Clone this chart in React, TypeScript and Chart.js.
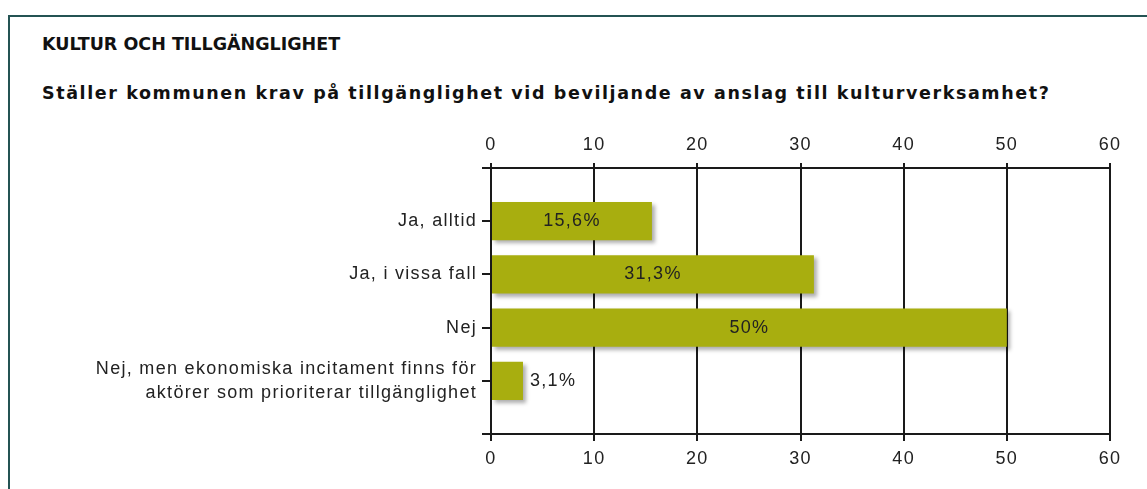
import { useEffect, useRef } from 'react';
import { Chart, registerables } from 'chart.js';

Chart.register(...registerables);

const pageTitle = 'KULTUR OCH TILLGÄNGLIGHET';
const question = 'Ställer kommunen krav på tillgänglighet vid beviljande av anslag till kulturverksamhet?';
const categories: (string | string[])[] = [
  'Ja, alltid',
  'Ja, i vissa fall',
  'Nej',
  ['Nej, men ekonomiska incitament finns för', 'aktörer som prioriterar tillgänglighet'],
];
const values = [15.6, 31.3, 50, 3.1];
const valueLabels = ['15,6%', '31,3%', '50%', '3,1%'];
const axisMin = 0;
const axisMax = 60;
const axisStep = 10;

const BAR_COLOR = '#a8ae0f';
const TEXT_COLOR = '#222222';
const LINE_COLOR = '#1a1a1a';
const LABEL_FONT = '"Liberation Sans", Arial, sans-serif';

export default function App() {
  const canvasRef = useRef<HTMLCanvasElement | null>(null);

  useEffect(() => {
    const canvas = canvasRef.current;
    if (!canvas) return;

    // pad the category axis with empty slots so that ticks sit at the plot edges
    const labels = ['', ...categories, ''];
    const data = [null, ...values, null];
    const texts = ['', ...valueLabels, ''];

    const spacingPlugin = {
      id: 'spacing',
      beforeDraw(chart: any) {
        try { chart.ctx.letterSpacing = '1.3px'; } catch (e) { /* ignore */ }
      },
    };

    const shadowPlugin = {
      id: 'barShadow',
      beforeDatasetsDraw(chart: any) {
        const ctx = chart.ctx;
        ctx.save();
        ctx.shadowColor = 'rgba(0,0,0,0.32)';
        ctx.shadowOffsetX = 3;
        ctx.shadowOffsetY = 3;
        ctx.shadowBlur = 4;
      },
      afterDatasetsDraw(chart: any) {
        chart.ctx.restore();
      },
    };

    const valuePlugin = {
      id: 'valueLabels',
      afterDatasetsDraw(chart: any) {
        const meta = chart.getDatasetMeta(0);
        const ctx = chart.ctx;
        ctx.save();
        ctx.font = `18px ${LABEL_FONT}`;
        ctx.fillStyle = TEXT_COLOR;
        ctx.textBaseline = 'middle';
        meta.data.forEach((bar: any, i: number) => {
          const text = texts[i];
          if (!text) return;
          const { x, y, base } = bar.getProps(['x', 'y', 'base'], true);
          const w = ctx.measureText(text).width;
          if (x - base > w + 16) {
            ctx.textAlign = 'center';
            ctx.fillText(text, (x + base) / 2, y);
          } else {
            ctx.textAlign = 'left';
            ctx.fillText(text, x + 7, y);
          }
        });
        ctx.restore();
      },
    };

    const tickFont = { family: LABEL_FONT, size: 18 };

    const chart = new Chart(canvas, {
      type: 'bar',
      data: {
        labels,
        datasets: [
          {
            data,
            backgroundColor: BAR_COLOR,
            borderWidth: 0,
            xAxisID: 'x',
            yAxisID: 'y',
          },
        ],
      },
      options: {
        indexAxis: 'y',
        responsive: false,
        animation: false,
        layout: { padding: { left: 0, right: 37, top: 0, bottom: 0 } },
        plugins: {
          legend: { display: false },
          tooltip: { enabled: false },
          title: { display: false },
        },
        scales: {
          y: {
            type: 'category',
            offset: false,
            z: 1,
            grid: {
              offset: false,
              drawOnChartArea: false,
              drawTicks: true,
              tickLength: 9,
              color: LINE_COLOR,
              lineWidth: 2,
            },
            border: { display: true, color: LINE_COLOR, width: 2 },
            ticks: {
              color: TEXT_COLOR,
              font: { ...tickFont, lineHeight: 1.33 },
              padding: 5,
              autoSkip: false,
            },
            afterFit(scale: any) { scale.width = 491; },
          },
          x: {
            type: 'linear',
            position: 'bottom',
            min: axisMin,
            max: axisMax,
            grid: {
              drawOnChartArea: true,
              drawTicks: true,
              tickLength: 7,
              color: LINE_COLOR,
              lineWidth: 2,
            },
            border: { display: true, color: LINE_COLOR, width: 2 },
            ticks: { stepSize: axisStep, color: TEXT_COLOR, font: tickFont, padding: 7 },
            afterFit(scale: any) { scale.height = 55; },
          },
          x2: {
            type: 'linear',
            position: 'top',
            min: axisMin,
            max: axisMax,
            grid: {
              drawOnChartArea: false,
              drawTicks: true,
              tickLength: 5,
              color: LINE_COLOR,
              lineWidth: 2,
            },
            border: { display: true, color: LINE_COLOR, width: 2 },
            ticks: { stepSize: axisStep, color: TEXT_COLOR, font: tickFont, padding: 7 },
            afterFit(scale: any) { scale.height = 168; },
          },
        },
      } as any,
      plugins: [spacingPlugin, shadowPlugin, valuePlugin],
    });

    return () => chart.destroy();
  }, []);

  const headStyle: any = {
    position: 'absolute',
    left: 42,
    fontFamily: '"DejaVu Sans", Verdana, sans-serif',
    fontWeight: 'bold',
    fontSize: '17.5px',
    lineHeight: 1,
    whiteSpace: 'nowrap',
    color: '#111111',
  };

  return (
    <div style={{ position: 'absolute', left: 0, top: 0, width: 1147, height: 489, overflow: 'hidden', background: '#ffffff' }}>
      <div
        style={{
          position: 'absolute',
          left: 8,
          top: 15,
          width: 1139,
          height: 474,
          borderTop: '2px solid #245353',
          borderLeft: '2px solid #245353',
          boxSizing: 'border-box',
        }}
      />
      <div style={{ ...headStyle, top: 36 }}>{pageTitle}</div>
      <div style={{ ...headStyle, top: 85, letterSpacing: '1.6px' }}>{question}</div>
      <canvas
        ref={canvasRef}
        width={1147}
        height={489}
        style={{ position: 'absolute', left: 0, top: 0, width: 1147, height: 489 }}
      />
    </div>
  );
}
